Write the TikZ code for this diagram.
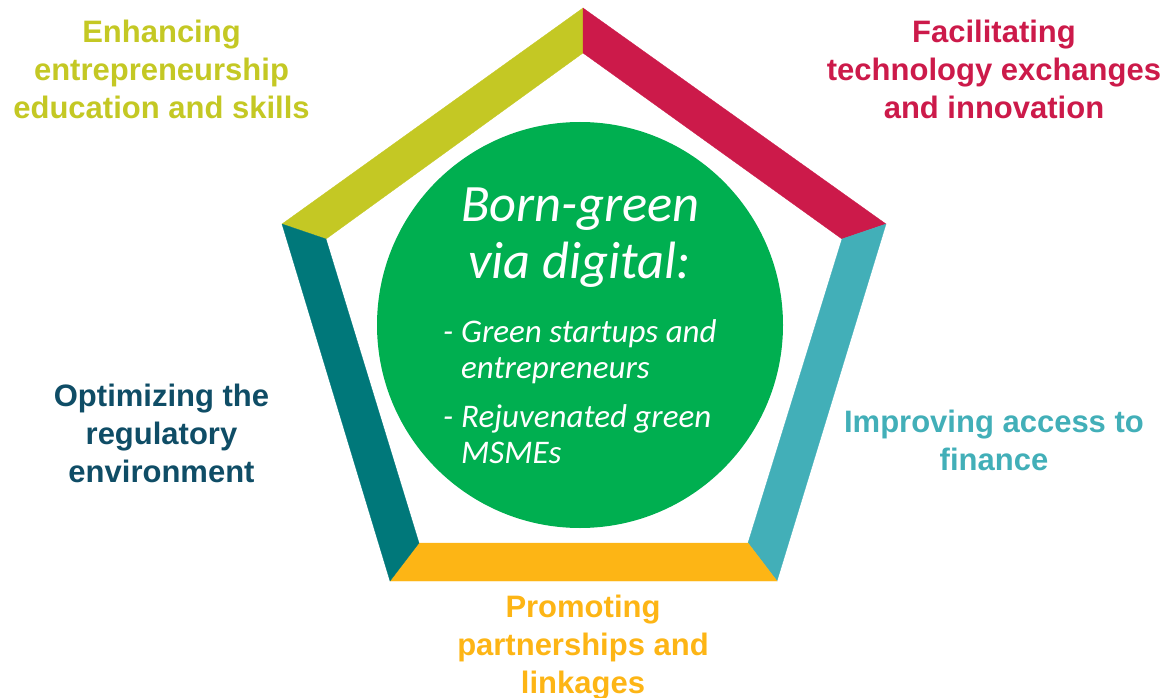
\documentclass[tikz,border=0pt]{standalone}
\usepackage{fontspec}
\setmainfont{Liberation Sans}
\newfontfamily\carlito{Carlito}
\definecolor{limec}{HTML}{C4C824}
\definecolor{crimc}{HTML}{CC1A4A}
\definecolor{lteal}{HTML}{42AFB8}
\definecolor{orangec}{HTML}{FDB515}
\definecolor{dteal}{HTML}{00787A}
\definecolor{navyt}{HTML}{0F4D66}
\definecolor{greenc}{HTML}{00AF50}
\newcommand\stacklines[1]{\vtop{\halign{\hfil##\hfil\cr#1\crcr}}}
\newcommand\leftlines[1]{\vtop{\halign{##\hfil\cr#1\crcr}}}
\tikzset{
  label/.style={inner sep=0pt, anchor=base, font=\bfseries\fontsize{31}{38}\selectfont},
  bar/.style={draw=#1, fill=#1, line width=0.3pt, line join=miter},
  titletext/.style={inner sep=0pt, anchor=base, text=white, font=\carlito\itshape\fontsize{52.5}{56}\selectfont},
  bullettext/.style={inner sep=0pt, anchor=base west, text=white, font=\carlito\itshape\fontsize{33}{36}\selectfont},
}
\begin{document}
\begin{tikzpicture}[x=1pt,y=-1pt]
\useasboundingbox (0,0) rectangle (1173,698);
% outer vertices
\coordinate (T) at (583,8);
\coordinate (UL) at (282,224);
\coordinate (LL) at (390,581);
\coordinate (LR) at (777,581);
\coordinate (UR) at (886,224);
% inner vertices
\coordinate (Ti) at (583,53);
\coordinate (ULi) at (326,239);
\coordinate (LLi) at (419,543);
\coordinate (LRi) at (748,543);
\coordinate (URi) at (842,239);
% bars
\fill[bar=limec] (T) -- (Ti) -- (ULi) -- (UL) -- cycle;
\fill[bar=crimc] (T) -- (UR) -- (URi) -- (Ti) -- cycle;
\fill[bar=lteal] (UR) -- (LR) -- (LRi) -- (URi) -- cycle;
\fill[bar=orangec] (LR) -- (LL) -- (LLi) -- (LRi) -- cycle;
\fill[bar=dteal] (LL) -- (UL) -- (ULi) -- (LLi) -- cycle;
% circle
\node[circle, fill=greenc, minimum size=406pt, inner sep=0pt] (hub) at (580,325) {};
\node[titletext] (t1) at (580.5,222) {Born-green};
\node[titletext] (t2) at (579.5,278) {via digital:};
\node[bullettext] (b1) at (443,342) {\makebox[18pt][l]{-}\leftlines{Green startups and\cr entrepreneurs}};
\node[bullettext] (b2) at (443,427) {\makebox[18pt][l]{-}\leftlines{Rejuvenated green\cr MSMEs}};
% labels
\node[label, text=limec] (l1) at (161.5,43) {\stacklines{Enhancing\cr entrepreneurship\cr education and skills}};
\node[label, text=crimc] (l2) at (994,43) {\stacklines{Facilitating\cr technology exchanges\cr and innovation}};
\node[label, text=navyt] (l3) at (161.5,406) {\stacklines{Optimizing the\cr regulatory\cr environment}};
\node[label, text=lteal] (l4) at (994,432) {\stacklines{Improving access to\cr finance}};
\node[label, text=orangec] (l5) at (583,617) {\stacklines{Promoting\cr partnerships and\cr linkages}};
\end{tikzpicture}
\end{document}
